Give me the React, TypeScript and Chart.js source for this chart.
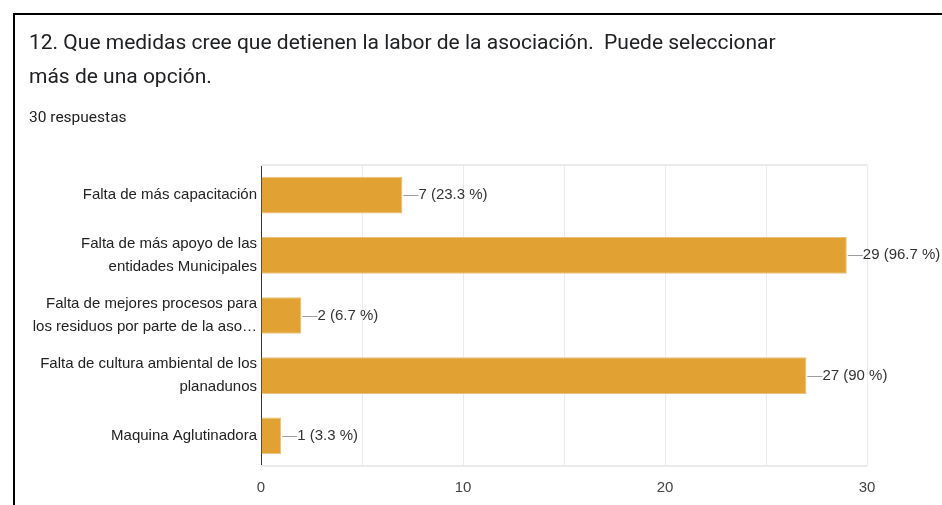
import React, { useEffect, useRef } from "react";
import { Chart, registerables } from "chart.js";

Chart.register(...registerables);

const categories: string[][] = [
  ["Falta de más capacitación"],
  ["Falta de más apoyo de las", "entidades Municipales"],
  ["Falta de mejores procesos para", "los residuos por parte de la aso…"],
  ["Falta de cultura ambiental de los", "planadunos"],
  ["Maquina Aglutinadora"],
];
const counts: number[] = [7, 29, 2, 27, 1];
const percents: string[] = ["23.3", "96.7", "6.7", "90", "3.3"];
const xTicksShown: number[] = [0, 10, 20, 30];

const titleLine1 = "12. Que medidas cree que detienen la labor de la asociación.  Puede seleccionar";
const titleLine2 = "más de una opción.";
const subtitle = "30 respuestas";

const BAR_COLOR = "#E1A133";
const FONT = "'Liberation Sans', Arial, sans-serif";

const valueLabels = {
  id: "valueLabels",
  afterDatasetsDraw(chart: any) {
    const ctx = chart.ctx;
    const meta = chart.getDatasetMeta(0);
    ctx.save();
    meta.data.forEach((bar: any, i: number) => {
      const x = bar.x;
      const y = bar.y;
      ctx.strokeStyle = "#9e9e9e";
      ctx.lineWidth = 1;
      ctx.beginPath();
      ctx.moveTo(x + 1, Math.round(y) + 0.5);
      ctx.lineTo(x + 16, Math.round(y) + 0.5);
      ctx.stroke();
      ctx.fillStyle = "#333333";
      ctx.font = "15px " + FONT;
      ctx.textAlign = "left";
      ctx.textBaseline = "middle";
      ctx.fillText(`${counts[i]} (${percents[i]} %)`, x + 16, y);
    });
    ctx.restore();
  },
};

const frameLines = {
  id: "frameLines",
  beforeDatasetsDraw(chart: any) {
    const { ctx, chartArea } = chart;
    ctx.save();
    ctx.strokeStyle = "#ebebeb";
    ctx.lineWidth = 2;
    ctx.beginPath();
    ctx.moveTo(chartArea.left, chartArea.top);
    ctx.lineTo(chartArea.right, chartArea.top);
    ctx.moveTo(chartArea.left, chartArea.bottom);
    ctx.lineTo(chartArea.right, chartArea.bottom);
    ctx.stroke();
    ctx.restore();
  },
};

function BarChart() {
  const ref = useRef<HTMLCanvasElement | null>(null);
  useEffect(() => {
    if (!ref.current) return;
    const chart = new Chart(ref.current, {
      type: "bar",
      data: {
        labels: categories,
        datasets: [
          {
            data: counts,
            backgroundColor: BAR_COLOR,
            borderColor: "#EBC07A",
            borderWidth: 1,
            barPercentage: 0.61,
            categoryPercentage: 1,
          },
        ],
      },
      options: {
        indexAxis: "y",
        animation: false,
        responsive: false,
        maintainAspectRatio: false,
        layout: { padding: { left: 0, right: 75, top: 165, bottom: 0 } },
        plugins: {
          legend: { display: false },
          tooltip: { enabled: false },
          title: { display: false },
        },
        scales: {
          x: {
            min: 0,
            max: 30,
            ticks: {
              stepSize: 5,
              color: "#444444",
              font: { family: FONT, size: 15 },
              padding: 13,
              maxRotation: 0,
              autoSkip: false,
              callback: (v: any) => (xTicksShown.includes(Number(v)) ? String(v) : ""),
            },
            grid: { color: "#ebebeb", lineWidth: 1, drawTicks: false },
            border: { display: false },
            afterFit: (s: any) => {
              s.height = 39;
            },
          },
          y: {
            ticks: {
              color: "#222222",
              font: { family: FONT, size: 15, lineHeight: 1.55 },
              padding: 4,
              autoSkip: false,
            },
            grid: { display: false, drawTicks: false },
            border: { display: true, color: "#333333", width: 1 },
            afterFit: (s: any) => {
              s.width = 261;
            },
          },
        },
      },
      plugins: [frameLines, valueLabels],
    });
    return () => chart.destroy();
  }, []);
  return <canvas ref={ref} width={942} height={505} style={{ position: "absolute", left: 0, top: 0 }} />;
}

export default function App() {
  return (
    <div style={{ position: "fixed", left: 0, top: 0, width: 942, height: 505, background: "#fff", overflow: "hidden" }}>
      <BarChart />
      <div style={{ position: "absolute", left: 14, top: 13, width: 928, height: 2, background: "#000" }} />
      <div style={{ position: "absolute", left: 13, top: 13, width: 2, height: 492, background: "#000" }} />
      <div
        style={{
          position: "absolute",
          left: 29,
          top: 25,
          fontFamily: "Roboto, sans-serif",
          fontSize: 21,
          lineHeight: "34px",
          color: "#202124",
          whiteSpace: "pre",
        }}
      >
        {titleLine1 + "\n" + titleLine2}
      </div>
      <div
        style={{
          position: "absolute",
          left: 29,
          top: 106,
          fontFamily: "Roboto, sans-serif",
          fontSize: 15.5,
          lineHeight: "22px",
          color: "#202124",
        }}
      >
        {subtitle}
      </div>
    </div>
  );
}
